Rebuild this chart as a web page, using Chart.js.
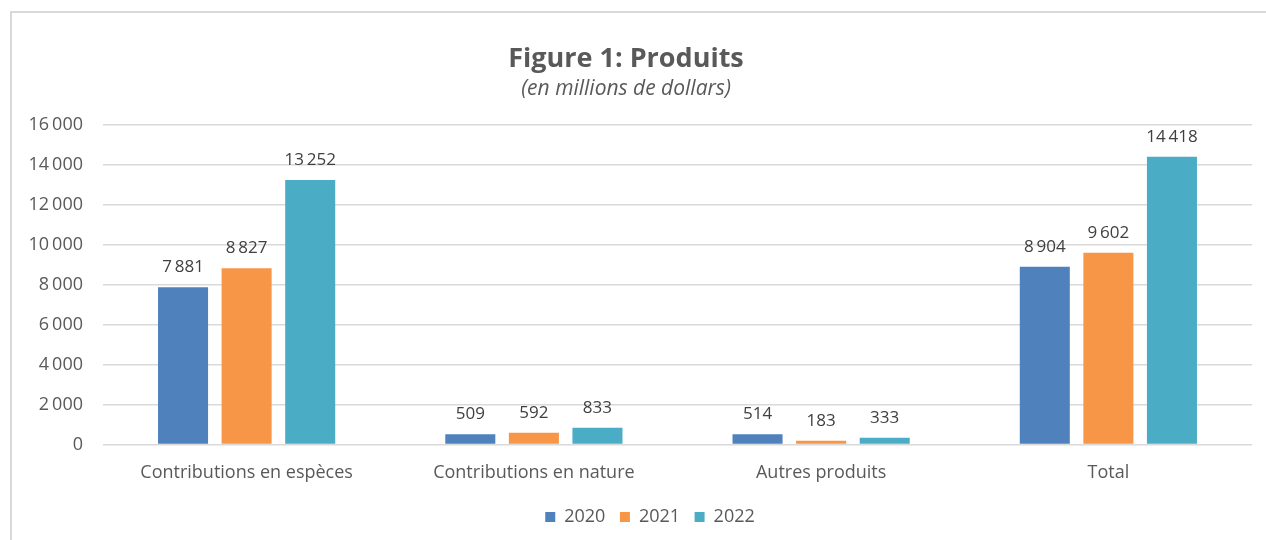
<!DOCTYPE html>
<html>
<head>
<meta charset="utf-8">
<script src="https://cdn.jsdelivr.net/npm/chart.js@4/dist/chart.umd.min.js"></script>
<style>
  html, body { margin: 0; padding: 0; background: #ffffff; }
  body { width: 1266px; height: 540px; position: relative; overflow: hidden; }
  #frame { position: absolute; left: 10px; top: 11px; width: 1400px; height: 700px;
           border-top: 2px solid #d9d9d9; border-left: 2px solid #d9d9d9; box-sizing: border-box; }
  #wrap { position: absolute; left: 0; top: 0; width: 1266px; height: 540px; }
</style>
</head>
<body>
<div id="frame"></div>
<div id="wrap"><canvas id="c" width="1266" height="540"></canvas></div>
<script>
const categories = ["Contributions en espèces", "Contributions en nature", "Autres produits", "Total"];
const seriesNames = ["2020", "2021", "2022"];
const values2020 = [7881, 509, 514, 8904];
const values2021 = [8827, 592, 183, 9602];
const values2022 = [13252, 833, 333, 14418];
const seriesColors = ["#4f81bd", "#f79646", "#4bacc6"];
const yTicks = [0, 2000, 4000, 6000, 8000, 10000, 12000, 14000, 16000];

function fmt(v) {
  return String(Math.round(v)).replace(/\B(?=(\d{3})+(?!\d))/g, "\u2009");
}

const FONT = "'Open Sans', 'Noto Sans', sans-serif";

const valueLabels = {
  id: 'valueLabels',
  afterDatasetsDraw(chart) {
    const ctx = chart.ctx;
    ctx.save();
    ctx.font = "17px " + FONT;
    ctx.fillStyle = "#404040";
    ctx.textAlign = "center";
    ctx.textBaseline = "middle";
    chart.data.datasets.forEach((ds, i) => {
      const meta = chart.getDatasetMeta(i);
      meta.data.forEach((bar, j) => {
        ctx.fillText(fmt(ds.data[j]), bar.x, bar.y - 20);
      });
    });
    ctx.restore();
  }
};

const legendShift = {
  id: 'legendShift',
  afterLayout(chart) {
    if (chart.legend) {
      chart.legend.left += 24;
      chart.legend.right += 24;
    }
  }
};

const datasets = [values2020, values2021, values2022].map((vals, i) => ({
  label: seriesNames[i],
  data: vals,
  backgroundColor: seriesColors[i],
  borderWidth: 0,
  categoryPercentage: 0.664,
  barPercentage: 0.787
}));

new Chart(document.getElementById('c'), {
  type: 'bar',
  data: { labels: categories, datasets: datasets },
  plugins: [valueLabels, legendShift],
  options: {
    responsive: false,
    animation: false,
    devicePixelRatio: 1,
    layout: { padding: { left: 0, right: 14, top: 0, bottom: 4 } },
    plugins: {
      title: {
        display: true,
        text: "Figure 1: Produits",
        color: "#595959",
        font: { family: FONT, size: 27, weight: 'bold' },
        padding: { top: 43, bottom: 0 }
      },
      subtitle: {
        display: true,
        text: "(en millions de dollars)",
        color: "#595959",
        font: { family: FONT, size: 21, style: 'italic' },
        padding: { top: 1, bottom: 23.5 }
      },
      legend: {
        display: true,
        position: 'bottom',
        labels: {
          color: "#595959",
          font: { family: FONT, size: 18 },
          boxWidth: 10,
          boxHeight: 10,
          padding: 14.5
        }
      },
      tooltip: { enabled: false }
    },
    scales: {
      x: {
        grid: { display: false },
        border: { display: false },
        afterFit(axis) { axis.height = 49; },
        ticks: {
          color: "#595959",
          font: { family: FONT, size: 18 },
          padding: 10,
          maxRotation: 0
        }
      },
      y: {
        min: 0,
        max: 16000,
        afterBuildTicks(axis) { axis.ticks = yTicks.map(v => ({ value: v })); },
        afterFit(axis) { axis.width = 103; },
        grid: { color: "#d9d9d9", lineWidth: 1.5, drawTicks: false },
        border: { display: false },
        ticks: {
          color: "#595959",
          font: { family: FONT, size: 18 },
          padding: 20,
          callback: (v) => fmt(v)
        }
      }
    }
  }
});
</script>
</body>
</html>
